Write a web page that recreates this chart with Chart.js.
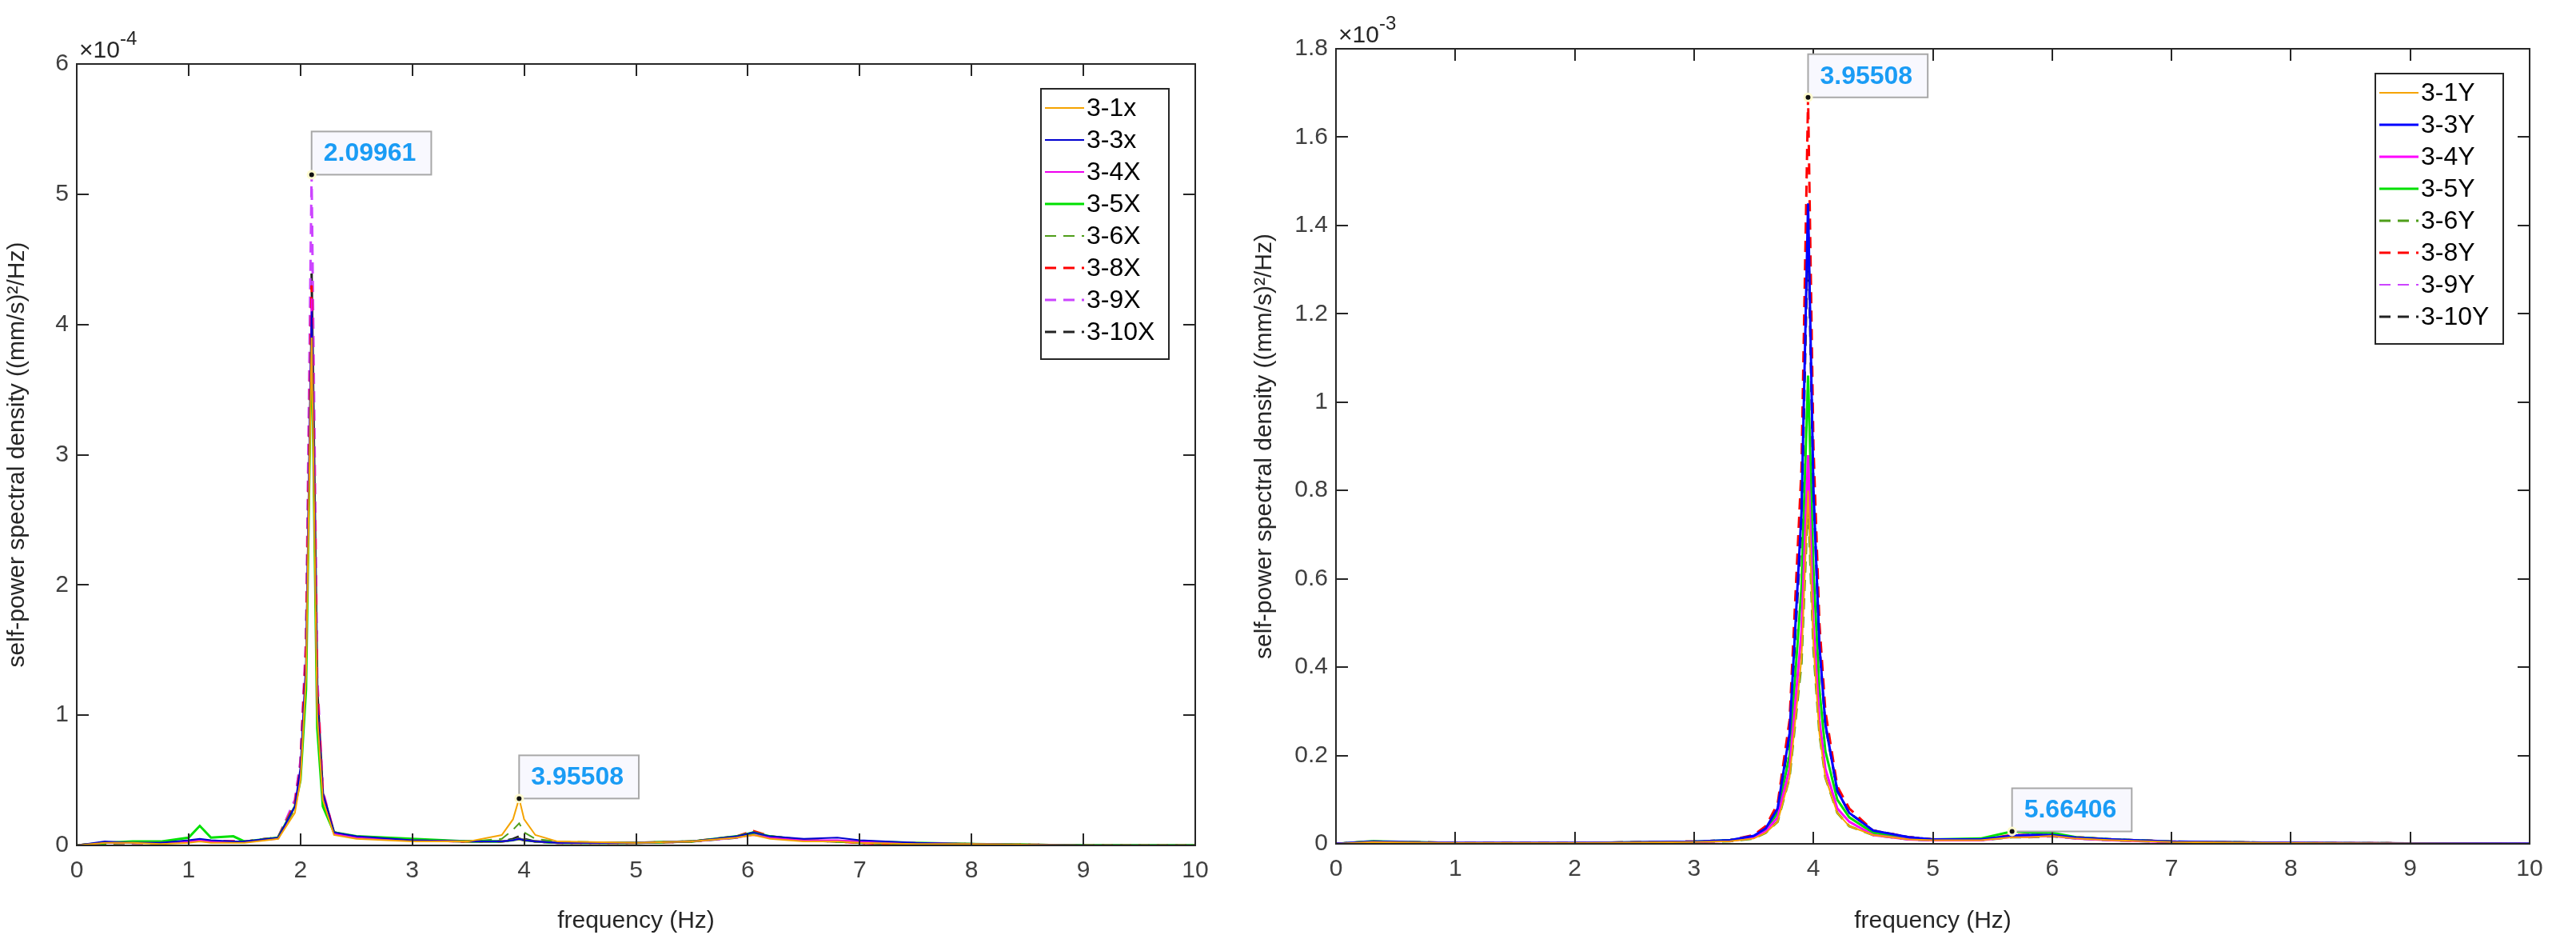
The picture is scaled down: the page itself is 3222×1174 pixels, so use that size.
<!DOCTYPE html>
<html>
<head>
<meta charset="utf-8">
<script src="https://cdn.jsdelivr.net/npm/chart.js@4.4.1/dist/chart.umd.min.js"></script>
<style>
  html, body { margin: 0; padding: 0; background: #fff; }
  #wrap { position: relative; width: 3222px; height: 1174px; }
  .box { position: absolute; top: 0; height: 1174px; }
  #boxL { left: 0; width: 1560px; }
  #boxR { left: 1560px; width: 1662px; }
</style>
</head>
<body>
<div id="wrap">
  <div class="box" id="boxL"><canvas id="chartX"></canvas></div>
  <div class="box" id="boxR"><canvas id="chartY"></canvas></div>
</div>
<script>
// ====== DATA (X direction, values x1e-4) ======
const freqX = [0, 0.25, 0.5, 0.75, 1.0, 1.1, 1.2, 1.4, 1.5, 1.8, 1.95, 2.0, 2.05, 2.09961, 2.15, 2.2, 2.3, 2.5, 3.0, 3.5, 3.8, 3.9, 3.95508, 4.0, 4.1, 4.3, 5.0, 5.5, 5.9, 6.05, 6.2, 6.5, 6.8, 7.0, 7.5, 8, 9, 10];
const x31  = [0,.02,.02,.01,.02,.03,.02,.02,.02,.05,.25,.5,1.3,3.9,1.0,.35,.08,.05,.03,.03,.08,.2,.36,.2,.08,.03,.02,.03,.06,.08,.05,.03,.03,.02,.01,.01,0,0];
const x33  = [0,.03,.02,.02,.04,.05,.04,.03,.03,.06,.3,.6,1.4,4.1,1.1,.4,.1,.07,.04,.03,.03,.04,.05,.04,.03,.02,.02,.03,.07,.1,.07,.05,.06,.04,.02,.01,0,0];
const x34  = [0,.02,.02,.02,.03,.04,.03,.03,.03,.05,.3,.55,1.4,4.2,1.1,.38,.09,.06,.04,.03,.03,.04,.05,.04,.03,.02,.02,.03,.06,.08,.06,.04,.04,.03,.02,.01,0,0];
const x35  = [0,.02,.03,.03,.06,.15,.06,.07,.03,.06,.3,.5,1.2,4.0,.9,.3,.1,.07,.05,.03,.03,.04,.05,.04,.03,.02,.02,.03,.07,.1,.07,.04,.03,.03,.02,.01,0,0];
const x36  = [0,.01,.02,.02,.03,.04,.03,.03,.03,.05,.28,.55,1.3,4.0,1.0,.35,.09,.06,.04,.03,.05,.12,.17,.1,.05,.03,.02,.03,.06,.09,.06,.04,.03,.02,.01,.01,0,0];
const x38  = [0,.02,.02,.02,.03,.04,.03,.03,.03,.06,.32,.6,1.5,4.3,1.2,.4,.1,.06,.04,.03,.03,.04,.05,.04,.03,.02,.02,.03,.07,.11,.07,.04,.03,.02,.01,.01,0,0];
const x39  = [0,.02,.02,.02,.03,.04,.03,.03,.03,.06,.35,.65,1.6,5.15,1.3,.42,.1,.06,.04,.03,.03,.04,.05,.04,.03,.02,.02,.03,.06,.1,.06,.04,.03,.02,.01,.01,0,0];
const x310 = [0,.02,.02,.02,.03,.04,.03,.03,.03,.06,.33,.62,1.5,4.4,1.2,.4,.1,.06,.04,.03,.03,.05,.07,.05,.03,.02,.02,.03,.06,.1,.06,.04,.03,.02,.01,.01,0,0];
const labelsX = ['3-1x', '3-3x', '3-4X', '3-5X', '3-6X', '3-8X', '3-9X', '3-10X'];

// ====== DATA (Y direction, values x1e-3) ======
const freqY = [0, 0.3, 1, 2, 3, 3.3, 3.5, 3.6, 3.7, 3.8, 3.9, 3.95508, 4.0, 4.05, 4.1, 4.2, 4.3, 4.5, 4.8, 5.0, 5.4, 5.66406, 5.8, 6.0, 6.2, 6.5, 7, 8, 9, 10];
const y31  = [0,.004,.002,.002,.004,.006,.012,.025,.05,.15,.42,.80,.45,.25,.15,.07,.04,.02,.01,.008,.008,.015,.015,.018,.012,.008,.004,.002,.001,0];
const y33  = [0,.005,.002,.002,.005,.008,.018,.035,.08,.25,.75,1.45,.8,.45,.27,.12,.07,.03,.015,.01,.01,.018,.02,.02,.014,.01,.005,.002,.001,0];
const y34  = [0,.004,.002,.002,.004,.007,.014,.028,.06,.17,.48,.88,.5,.28,.17,.08,.05,.02,.01,.008,.008,.016,.016,.018,.012,.008,.004,.002,.001,0];
const y35  = [0,.006,.002,.002,.005,.008,.016,.032,.07,.2,.58,1.06,.62,.35,.21,.1,.06,.025,.012,.01,.012,.028,.026,.025,.015,.01,.005,.002,.001,0];
const y36  = [0,.004,.002,.002,.004,.006,.012,.025,.05,.15,.41,.78,.44,.25,.15,.07,.04,.02,.01,.008,.008,.015,.015,.017,.012,.008,.004,.002,.001,0];
const y38  = [0,.005,.002,.002,.005,.008,.02,.04,.09,.28,.85,1.69,.9,.5,.3,.13,.08,.03,.015,.01,.01,.02,.02,.02,.015,.01,.005,.002,.001,0];
const y39  = [0,.005,.002,.002,.005,.008,.018,.035,.08,.25,.74,1.43,.82,.46,.28,.12,.07,.03,.015,.01,.01,.018,.02,.02,.014,.01,.005,.002,.001,0];
const y310 = [0,.005,.002,.002,.005,.008,.018,.034,.08,.24,.72,1.40,.8,.45,.27,.12,.07,.03,.015,.01,.01,.018,.02,.02,.014,.01,.005,.002,.001,0];
const labelsY = ['3-1Y', '3-3Y', '3-4Y', '3-5Y', '3-6Y', '3-8Y', '3-9Y', '3-10Y'];

const xTicks = [0, 1, 2, 3, 4, 5, 6, 7, 8, 9, 10];

// ====== STYLES ======
const FONT = '"Liberation Sans", Arial, sans-serif';
const DASH = [14, 9];
const styleX = [
    { c: '#f5a300', w: 2 }, { c: '#0000d0', w: 2 }, { c: '#ee00ee', w: 2 }, { c: '#00e000', w: 3 },
    { c: '#4f9e1a', w: 2, d: DASH }, { c: '#ff0000', w: 3, d: DASH }, { c: '#cc44ff', w: 3, d: DASH }, { c: '#222222', w: 3, d: DASH }
];
const styleY = [
    { c: '#f5a300', w: 2 }, { c: '#0000ff', w: 3 }, { c: '#ff00ff', w: 3 }, { c: '#00e000', w: 3 },
    { c: '#4f9e1a', w: 3, d: DASH }, { c: '#ff0000', w: 3, d: DASH }, { c: '#cc44ff', w: 2, d: DASH }, { c: '#222222', w: 3, d: DASH }
];

function makeDatasets(freq, series, labels, styles) {
    return series.map((vals, i) => ({
        label: labels[i],
        data: vals.map((v, k) => ({ x: freq[k], y: v })),
        borderColor: styles[i].c,
        borderWidth: styles[i].w,
        borderDash: styles[i].d || [],
        pointRadius: 0,
        tension: 0,
        fill: false,
    }));
}

// ====== PLUGIN: MATLAB-style frame, ticks, legend, datatips ======
const matlabPlugin = {
    id: 'matlab',
    afterDatasetsDraw(chart, args, opts) {
        const ctx = chart.ctx;
        const a = chart.chartArea;
        const xs = chart.scales.x, ys = chart.scales.y;
        ctx.save();
        // frame
        ctx.strokeStyle = '#262626';
        ctx.lineWidth = 2;
        ctx.setLineDash([]);
        ctx.strokeRect(a.left, a.top, a.right - a.left, a.bottom - a.top);
        // inward ticks
        const tl = 15;
        ctx.beginPath();
        opts.xt.forEach(v => {
            const px = Math.round(xs.getPixelForValue(v));
            ctx.moveTo(px, a.bottom); ctx.lineTo(px, a.bottom - tl);
            ctx.moveTo(px, a.top); ctx.lineTo(px, a.top + tl);
        });
        opts.yt.forEach(v => {
            const py = Math.round(ys.getPixelForValue(v));
            ctx.moveTo(a.left, py); ctx.lineTo(a.left + tl, py);
            ctx.moveTo(a.right, py); ctx.lineTo(a.right - tl, py);
        });
        ctx.stroke();
        // exponent
        ctx.fillStyle = '#262626';
        ctx.textBaseline = 'alphabetic';
        ctx.textAlign = 'left';
        ctx.font = '30px ' + FONT;
        ctx.fillText('\u00d710', a.left + 3, a.top - 8);
        const w = ctx.measureText('\u00d710').width;
        ctx.font = '24px ' + FONT;
        ctx.fillText(opts.exp, a.left + 3 + w, a.top - 24);
        // datatips
        opts.tips.forEach(t => {
            const ds = chart.data.datasets[t.ds];
            const p = ds.data[t.i];
            const px = xs.getPixelForValue(p.x), py = ys.getPixelForValue(p.y);
            ctx.font = 'bold 32px ' + FONT;
            const tw = ctx.measureText(t.text).width;
            const bw = tw + 34, bh = 54;
            ctx.fillStyle = '#f8f8fe';
            ctx.strokeStyle = '#a8a8a8';
            ctx.lineWidth = 2;
            ctx.fillRect(px, py - bh, bw, bh);
            ctx.strokeRect(px, py - bh, bw, bh);
            ctx.fillStyle = '#1a9cf5';
            ctx.textBaseline = 'middle';
            ctx.fillText(t.text, px + 15, py - bh / 2 + 1);
            ctx.fillStyle = '#fffbd0';
            ctx.beginPath(); ctx.arc(px, py, 6, 0, Math.PI * 2); ctx.fill();
            ctx.fillStyle = '#111';
            ctx.beginPath(); ctx.arc(px, py, 3, 0, Math.PI * 2); ctx.fill();
        });
        // legend
        const n = chart.data.datasets.length;
        const rowH = 40, lw = 160;
        const lx = a.right - 33 - lw, ly = a.top + 31;
        const lh = rowH * n + 18;
        ctx.fillStyle = '#fff';
        ctx.fillRect(lx, ly, lw, lh);
        ctx.strokeStyle = '#262626';
        ctx.lineWidth = 2;
        ctx.strokeRect(lx, ly, lw, lh);
        ctx.textBaseline = 'middle';
        ctx.font = '32px ' + FONT;
        chart.data.datasets.forEach((ds, i) => {
            const cy = ly + 24 + i * rowH;
            ctx.strokeStyle = ds.borderColor;
            ctx.lineWidth = ds.borderWidth;
            ctx.setLineDash(ds.borderDash);
            ctx.beginPath(); ctx.moveTo(lx + 5, cy); ctx.lineTo(lx + 54, cy); ctx.stroke();
            ctx.setLineDash([]);
            ctx.fillStyle = '#000';
            ctx.fillText(ds.label, lx + 57, cy + 1);
        });
        ctx.restore();
    }
};

function makeChart(id, freq, series, labels, styles, yMax, yStep, yTicks, tickFmt, opts, layout) {
    return new Chart(document.getElementById(id), {
        type: 'line',
        data: { datasets: makeDatasets(freq, series, labels, styles) },
        plugins: [matlabPlugin],
        options: {
            responsive: true,
            maintainAspectRatio: false,
            animation: false,
            layout: { padding: { left: 0, top: layout.top, right: layout.right, bottom: 0 } },
            plugins: {
                legend: { display: false },
                tooltip: { enabled: false },
                matlab: opts
            },
            scales: {
                x: {
                    type: 'linear', min: 0, max: 10,
                    afterBuildTicks: ax => { ax.ticks = xTicks.map(v => ({ value: v })); },
                    afterFit: ax => { ax.height = layout.xh; },
                    grid: { display: false, drawTicks: false },
                    border: { display: false },
                    ticks: { color: '#404040', font: { family: FONT, size: 30 }, padding: 14 },
                    title: { display: true, text: 'frequency (Hz)', color: '#262626', font: { family: FONT, size: 30 }, padding: { top: 6 } }
                },
                y: {
                    type: 'linear', min: 0, max: yMax,
                    afterBuildTicks: ax => { ax.ticks = yTicks.map(v => ({ value: v })); },
                    afterFit: ax => { ax.width = layout.yw; },
                    grid: { display: false, drawTicks: false },
                    border: { display: false },
                    ticks: { color: '#404040', font: { family: FONT, size: 30 }, padding: 10, callback: tickFmt },
                    title: { display: true, text: 'self-power spectral density ((mm/s)\u00b2/Hz)', color: '#262626', font: { family: FONT, size: 30 }, padding: { bottom: 2 } }
                }
            }
        }
    });
}

const yTicksX = [0, 1, 2, 3, 4, 5, 6];
const yTicksY = [0, 0.2, 0.4, 0.6, 0.8, 1.0, 1.2, 1.4, 1.6, 1.8];

makeChart('chartX', freqX, [x31, x33, x34, x35, x36, x38, x39, x310], labelsX, styleX,
    6, 1, yTicksX, v => String(v),
    { exp: '-4', xt: xTicks, yt: yTicksX, tips: [{ ds: 6, i: 13, text: '2.09961' }, { ds: 0, i: 22, text: '3.95508' }] },
    { top: 80, right: 65, xh: 117, yw: 96 });

makeChart('chartY', freqY, [y31, y33, y34, y35, y36, y38, y39, y310], labelsY, styleY,
    1.8, 0.2, yTicksY, v => (Math.round(v * 10) / 10).toString(),
    { exp: '-3', xt: xTicks, yt: yTicksY, tips: [{ ds: 5, i: 11, text: '3.95508' }, { ds: 3, i: 21, text: '5.66406' }] },
    { top: 61, right: 58, xh: 119, yw: 111 });
</script>
</body>
</html>
